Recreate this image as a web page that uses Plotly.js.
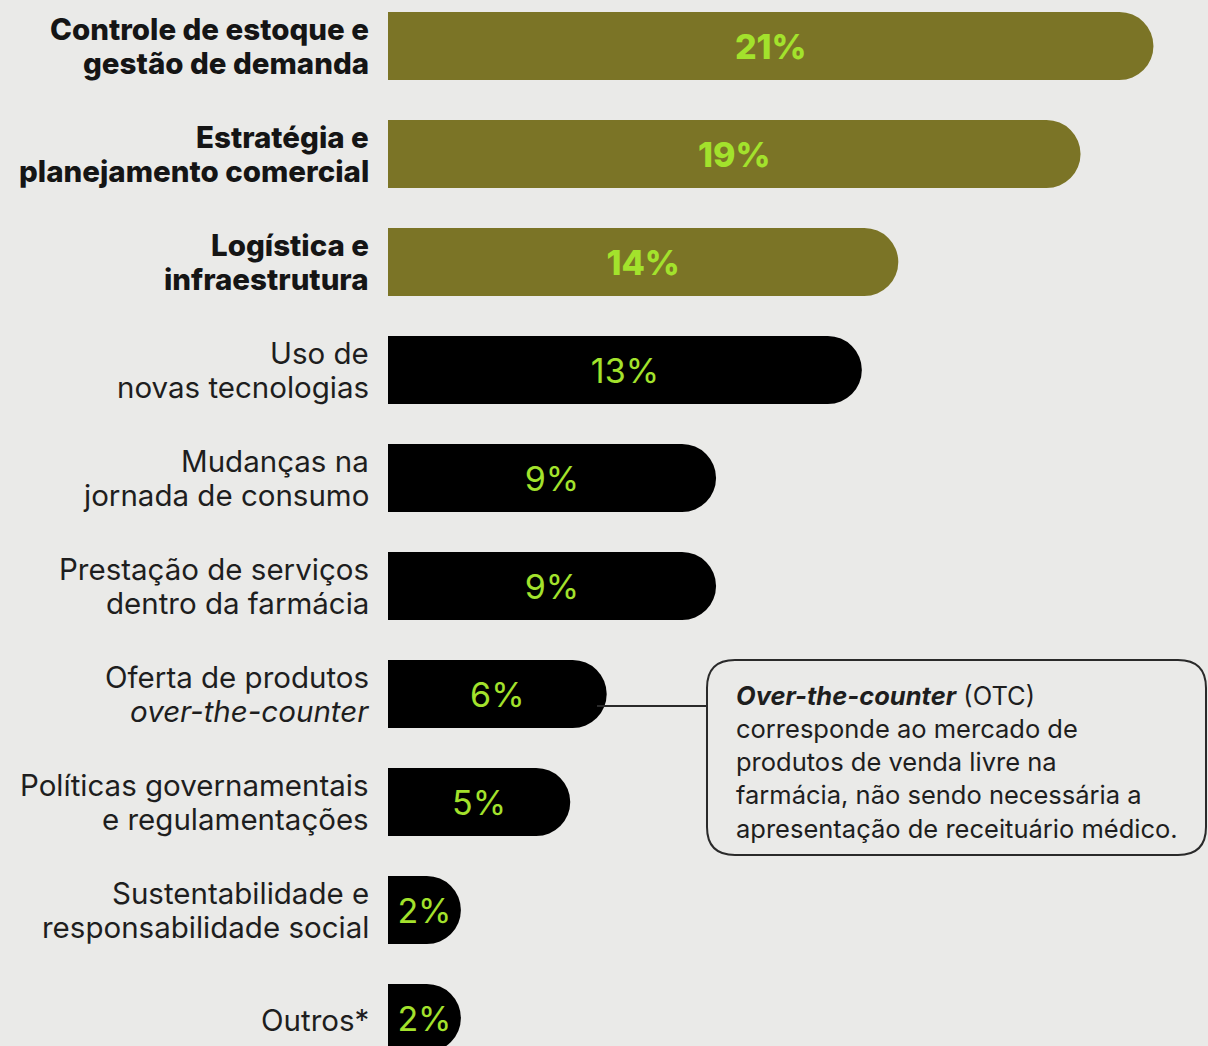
<!DOCTYPE html>
<html>
<head>
<meta charset="utf-8">
<script src="https://cdn.plot.ly/plotly-3.0.1.min.js"></script>
<style>
  html, body { margin: 0; padding: 0; background: #EAEAE8; }
  #chart { width: 1208px; height: 1046px; }
</style>
</head>
<body>
<div id="chart"></div>
<script>
// ---- data ----
const categories = [
  "Controle de estoque e<br>gestão de demanda",
  "Estratégia e<br>planejamento comercial",
  "Logística e<br>infraestrutura",
  "Uso de<br>novas tecnologias",
  "Mudanças na<br>jornada de consumo",
  "Prestação de serviços<br>dentro da farmácia",
  "Oferta de produtos<br><i>over-the-counter</i>",
  "Políticas governamentais<br>e regulamentações",
  "Sustentabilidade e<br>responsabilidade social",
  "Outros*"
];
const values = [21, 19, 14, 13, 9, 9, 6, 5, 2, 2];
const highlighted = [true, true, true, false, false, false, false, false, false, false];
const calloutText = "<b><i>Over-the-counter</i></b> (OTC)<br>corresponde ao mercado de<br>produtos de venda livre na<br>farmácia, não sendo necessária a<br>apresentação de receituário médico.";

// ---- layout helpers ----
const W = 1208, H = 1046, L = 388;
const plotW = W - L, plotH = H;
const px2x = p => (p - L) / plotW;      // page px -> paper x
const py2y = p => 1 - p / plotH;        // page px -> paper y

const OLIVE = "#7B7426", BLACK = "#000000", LIME = "#A3E22C", TXT = "#1E1E1E";
const FONT = "Inter, 'Noto Sans', sans-serif";

const idx = values.map((v, i) => i);

const trace = {
  type: "bar",
  orientation: "h",
  x: values,
  y: idx,
  width: 0.63,
  marker: {
    color: highlighted.map(h => h ? OLIVE : BLACK),
    cornerradius: "50%",
    line: { width: 0 }
  },
  text: values.map(v => v + "%"),
  textposition: "inside",
  insidetextanchor: "middle",
  constraintext: "none",
  textfont: { family: FONT, size: 34, color: LIME, weight: highlighted.map(h => h ? 800 : 400) },
  hoverinfo: "skip",
  cliponaxis: true
};

// category labels, one annotation per line for tight line spacing
const lineGap = 34;
const labelAnns = [];
categories.forEach((c, i) => {
  const lines = c.split("<br>");
  const n = lines.length;
  lines.forEach((ln, j) => {
    labelAnns.push({
      xref: "paper", yref: "y",
      x: 0, y: i,
      xanchor: "right", yanchor: "middle",
      xshift: -17,
      yshift: ((n - 1) / 2 - j) * lineGap + (n === 1 ? -2 : 0),
      align: "right",
      text: ln,
      showarrow: false,
      font: highlighted[i]
        ? { family: FONT, size: 29.5, color: "#151515", weight: 800 }
        : { family: FONT, size: 29.5, color: TXT, weight: 400 }
    });
  });
});

// callout box (rounded rectangle)
const bx0 = 707, bx1 = 1206, by0 = 660, by1 = 855, r = 28;
function P(x, y) { return px2x(x).toFixed(5) + "," + py2y(y).toFixed(5); }
const boxPath =
  "M" + P(bx0 + r, by0) +
  " L" + P(bx1 - r, by0) +
  " Q" + P(bx1, by0) + " " + P(bx1, by0 + r) +
  " L" + P(bx1, by1 - r) +
  " Q" + P(bx1, by1) + " " + P(bx1 - r, by1) +
  " L" + P(bx0 + r, by1) +
  " Q" + P(bx0, by1) + " " + P(bx0, by1 - r) +
  " L" + P(bx0, by0 + r) +
  " Q" + P(bx0, by0) + " " + P(bx0 + r, by0) + " Z";

const shapes = [
  { type: "path", xref: "paper", yref: "paper", path: boxPath,
    line: { color: "#2A2A2A", width: 2 }, fillcolor: "rgba(0,0,0,0)" },
  { type: "line", xref: "paper", yref: "paper",
    x0: px2x(597), x1: px2x(bx0), y0: py2y(706), y1: py2y(706),
    line: { color: "#2A2A2A", width: 2 } }
];

const calloutAnn = {
  xref: "paper", yref: "paper",
  x: px2x(734), y: py2y(762),
  xanchor: "left", yanchor: "middle",
  align: "left",
  text: calloutText,
  showarrow: false,
  font: { family: FONT, size: 25.5, color: TXT }
};

// y range: category 0 centred at page y=46, spacing 108px
const spacing = 108, c0 = 46;
const yTop = -c0 / spacing, yBot = (H - c0) / spacing;
// x scale ~36.45 px per percentage point
const xMax = plotW / 36.45;

const layout = {
  width: W, height: H,
  margin: { l: L, r: 0, t: 0, b: 0, pad: 0 },
  paper_bgcolor: "#EAEAE8",
  plot_bgcolor: "#EAEAE8",
  showlegend: false,
  xaxis: { range: [0, xMax], visible: false, fixedrange: true },
  yaxis: { range: [yBot, yTop], visible: false, fixedrange: true },
  shapes: shapes,
  annotations: labelAnns.concat([calloutAnn]),
  font: { family: FONT }
};

Plotly.newPlot("chart", [trace], layout, { staticPlot: true, displayModeBar: false });
</script>
</body>
</html>
